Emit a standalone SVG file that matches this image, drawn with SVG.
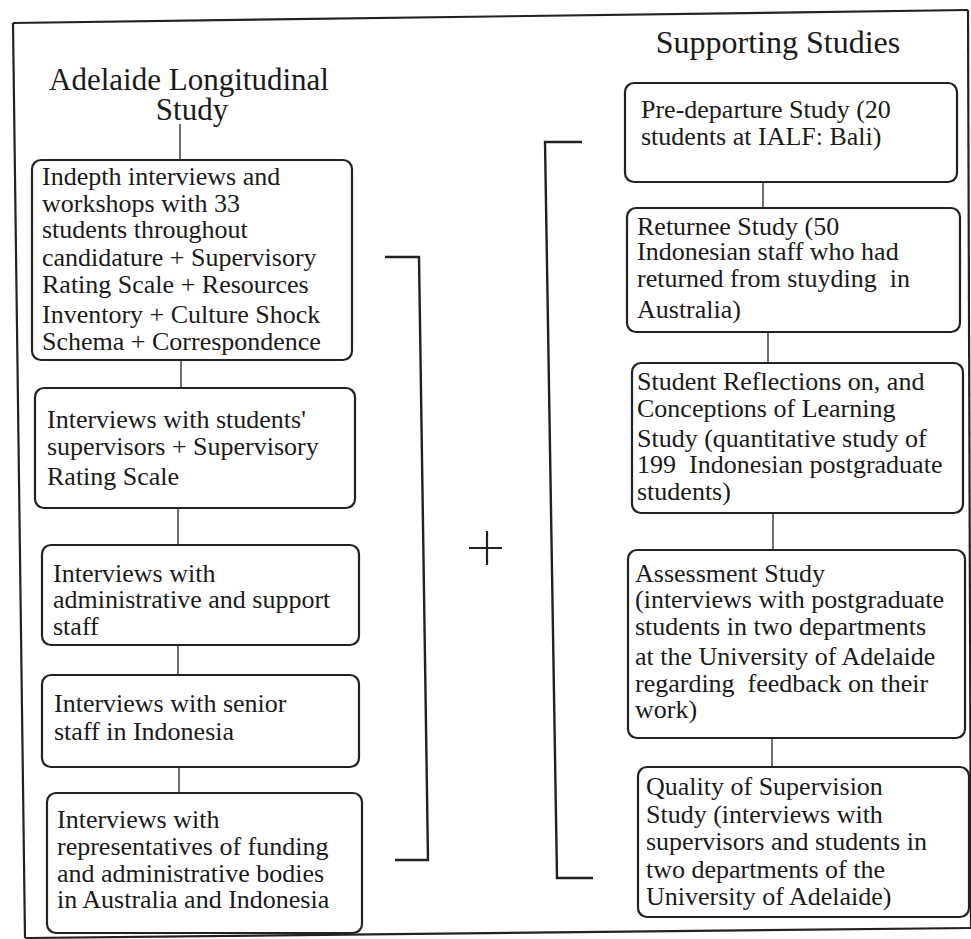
<svg xmlns="http://www.w3.org/2000/svg" width="971" height="939" viewBox="0 0 971 939">
<style>
  .frame { fill: none; stroke: #222; stroke-width: 2.2; }
  .box { fill: #fff; stroke: #222; stroke-width: 2.2; }
  .conn { fill: none; stroke: #333; stroke-width: 1.4; }
  .bracket { fill: none; stroke: #222; stroke-width: 2.4; }
  .title { font-family: "Liberation Serif", "Times New Roman", serif; font-size: 31px; fill: #1a1a1a; }
  .t { font-family: "Liberation Serif", "Times New Roman", serif; font-size: 26px; fill: #1a1a1a; }
</style>
<rect x="0" y="0" width="971" height="939" fill="#fff"/>

<g id="frame">
  <path class="frame" d="M13,23 L968,10"/>
  <path class="frame" d="M13,23 L25,938"/>
  <path class="frame" d="M25,938 L971,928"/>
  <path class="frame" d="M968,10 L971,928"/>
</g>

<g id="titles">
  <text class="title" x="189" y="90" text-anchor="middle">Adelaide Longitudinal</text>
  <text class="title" x="192" y="120" text-anchor="middle">Study</text>
  <text class="title" x="778" y="53" text-anchor="middle" style="font-size:32px">Supporting Studies</text>
</g>

<g id="connectors">
  <line class="conn" x1="180" y1="124" x2="180" y2="160"/>
  <line class="conn" x1="181" y1="360" x2="181" y2="388"/>
  <line class="conn" x1="178" y1="508" x2="178" y2="545"/>
  <line class="conn" x1="178" y1="645" x2="178" y2="675"/>
  <line class="conn" x1="179" y1="767" x2="179" y2="793"/>
  <line class="conn" x1="763" y1="182" x2="763" y2="208"/>
  <line class="conn" x1="768" y1="332" x2="768" y2="363"/>
  <line class="conn" x1="773" y1="513" x2="773" y2="550"/>
  <line class="conn" x1="772" y1="738" x2="772" y2="767"/>
  <path class="bracket" d="M385,257 L419,257 L428,860 L395,860"/>
  <path class="bracket" d="M582,142 L545,142 L557,878 L593,878"/>
  <path class="bracket" d="M469,548 L502,548 M487,531 L487,565" style="stroke-width:2.2"/>
</g>

<g id="box-indepth">
  <rect class="box" x="32" y="160" width="320" height="200" rx="9"/>
  <text class="t" x="42" y="185">Indepth interviews and</text>
  <text class="t" x="42" y="212">workshops with 33</text>
  <text class="t" x="42" y="238">students throughout</text>
  <text class="t" x="42" y="266">candidature + Supervisory</text>
  <text class="t" x="42" y="293">Rating Scale + Resources</text>
  <text class="t" x="42" y="323">Inventory + Culture Shock</text>
  <text class="t" x="42" y="350">Schema + Correspondence</text>
</g>

<g id="box-supervisors">
  <rect class="box" x="35" y="388" width="320" height="120" rx="9"/>
  <text class="t" x="47" y="428">Interviews with students'</text>
  <text class="t" x="47" y="455">supervisors + Supervisory</text>
  <text class="t" x="47" y="485">Rating Scale</text>
</g>

<g id="box-admin">
  <rect class="box" x="42" y="545" width="317" height="100" rx="9"/>
  <text class="t" x="53" y="582">Interviews with</text>
  <text class="t" x="53" y="608">administrative and support</text>
  <text class="t" x="53" y="635">staff</text>
</g>

<g id="box-senior">
  <rect class="box" x="42" y="675" width="317" height="92" rx="9"/>
  <text class="t" x="54" y="712">Interviews with senior</text>
  <text class="t" x="54" y="740">staff in Indonesia</text>
</g>

<g id="box-funding">
  <rect class="box" x="47" y="793" width="315" height="140" rx="9"/>
  <text class="t" x="57" y="828">Interviews with</text>
  <text class="t" x="57" y="855">representatives of funding</text>
  <text class="t" x="57" y="882">and administrative bodies</text>
  <text class="t" x="57" y="908">in Australia and Indonesia</text>
</g>

<g id="box-predeparture">
  <rect class="box" x="625" y="83" width="332" height="99" rx="9"/>
  <text class="t" x="641" y="118">Pre-departure Study (20</text>
  <text class="t" x="641" y="145">students at IALF: Bali)</text>
</g>

<g id="box-returnee">
  <rect class="box" x="627" y="208" width="333" height="124" rx="9"/>
  <text class="t" x="637" y="235">Returnee Study (50</text>
  <text class="t" x="637" y="260">Indonesian staff who had</text>
  <text class="t" x="637" y="287" xml:space="preserve">returned from stuyding  in</text>
  <text class="t" x="637" y="318">Australia)</text>
</g>

<g id="box-reflections">
  <rect class="box" x="632" y="363" width="331" height="150" rx="9"/>
  <text class="t" x="637" y="390">Student Reflections on, and</text>
  <text class="t" x="637" y="417">Conceptions of Learning</text>
  <text class="t" x="637" y="447">Study (quantitative study of</text>
  <text class="t" x="637" y="473" xml:space="preserve">199  Indonesian postgraduate</text>
  <text class="t" x="637" y="500">students)</text>
</g>

<g id="box-assessment">
  <rect class="box" x="628" y="550" width="337" height="188" rx="9"/>
  <text class="t" x="635" y="582">Assessment Study</text>
  <text class="t" x="635" y="608">(interviews with postgraduate</text>
  <text class="t" x="635" y="635">students in two departments</text>
  <text class="t" x="635" y="665">at the University of Adelaide</text>
  <text class="t" x="635" y="692" xml:space="preserve">regarding  feedback on their</text>
  <text class="t" x="635" y="718">work)</text>
</g>

<g id="box-quality">
  <rect class="box" x="638" y="767" width="331" height="150" rx="9"/>
  <text class="t" x="646" y="795">Quality of Supervision</text>
  <text class="t" x="646" y="823">Study (interviews with</text>
  <text class="t" x="646" y="850">supervisors and students in</text>
  <text class="t" x="646" y="878">two departments of the</text>
  <text class="t" x="646" y="905">University of Adelaide)</text>
</g>
</svg>
